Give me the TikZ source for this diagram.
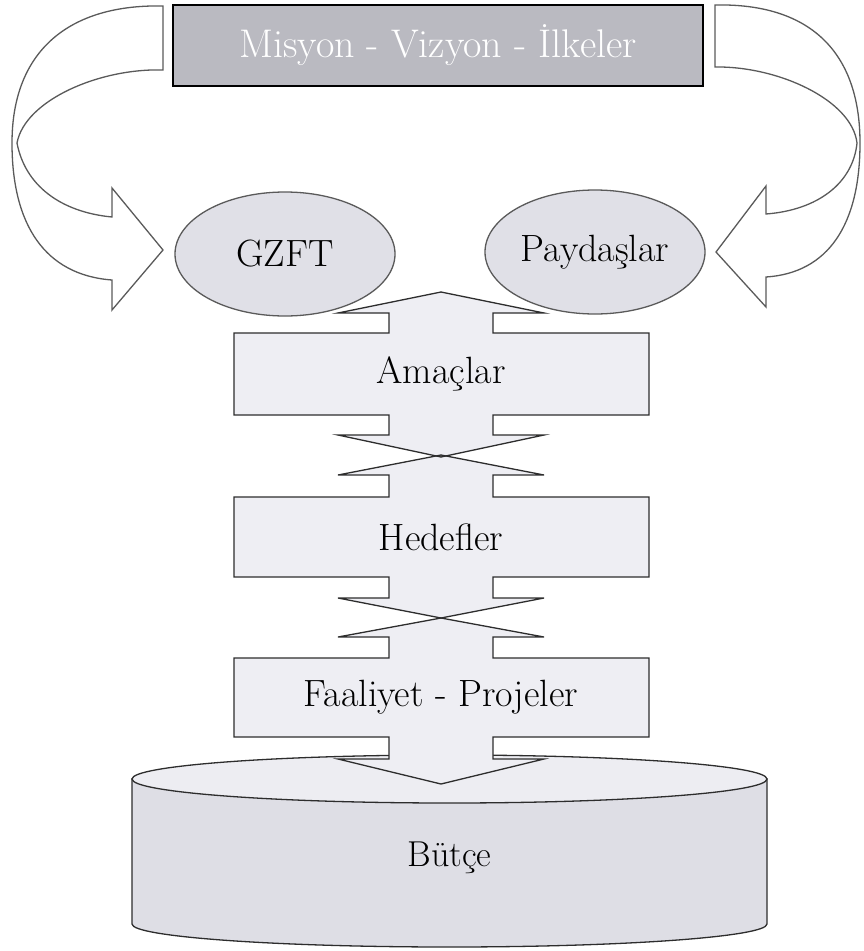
\documentclass[tikz,border=0pt]{standalone}
\usepackage{fontspec}
\usetikzlibrary{shapes.geometric}
\definecolor{topfill}{RGB}{186,186,193}
\definecolor{ellfill}{RGB}{224,224,231}
\definecolor{blkfill}{RGB}{238,238,243}
\definecolor{cylbody}{RGB}{222,222,229}
\definecolor{cyltop}{RGB}{237,237,242}
\definecolor{linec}{RGB}{45,45,45}
\definecolor{arrline}{RGB}{90,90,90}
\newcommand\udshape[7]{%
  \path[#1] (234,#2) -- (389,#2) -- (389,#4) -- (338,#4) -- (441,#5) -- (544,#4) -- (493,#4) -- (493,#2)
    -- (649,#2) -- (649,#3) -- (493,#3) -- (493,#6) -- (544,#6) -- (441,#7) -- (338,#6) -- (389,#6)
    -- (389,#3) -- (234,#3) -- cycle;}
\newcommand\bigfont[1]{\addfontfeatures{FakeBold=0.6}\fontsize{#1}{#1}\selectfont}
\tikzset{
  lbl/.style={font=\bigfont{38}, text=black, inner sep=0pt},
  blockfill/.style={fill=blkfill},
  blockline/.style={draw=linec, line width=1.3pt, line join=miter},
  curvarrow/.style={fill=white, draw=arrline, line width=1.3pt, line join=miter},
  ellnode/.style={ellipse, fill=ellfill, draw=arrline, line width=1.3pt, minimum width=220pt, minimum height=124pt, inner sep=0pt, font=\bigfont{38}},
}
\begin{document}
\begin{tikzpicture}[x=1pt,y=-1pt]
\useasboundingbox (0,0) rectangle (863,951);
% curved arrows
\draw[curvarrow] (163,6) .. controls (70,4) and (12,50) .. (12,143)
  .. controls (12,225) and (45,275) .. (112,280) -- (112,310) -- (163,250) -- (112,188) -- (112,217)
  .. controls (60,212) and (25,185) .. (17,143) .. controls (25,100) and (100,68) .. (163,70) -- cycle;
\draw[curvarrow] (715,5) .. controls (808,3) and (860,50) .. (860,143)
  .. controls (860,225) and (828,273) .. (766,277) -- (766,307) -- (716,252) -- (766,186) -- (766,214)
  .. controls (818,210) and (853,183) .. (857,143) .. controls (852,100) and (778,66) .. (715,67) -- cycle;
% top box
\node[rectangle, fill=topfill, draw=black, line width=1.8pt, minimum width=530pt, minimum height=81pt,
  inner sep=0pt, font=\bigfont{40}, text=white] (mvi) at (438,45.5) {Misyon - Vizyon - İlkeler};
% ellipses
\node[ellnode] (gzft) at (285,254) {GZFT};
\node[ellnode] (payd) at (595,252) {Paydaşlar};
% cylinder
\path[fill=cylbody, draw=linec, line width=1.3pt] (132,779) -- (132,924)
  arc[start angle=180, end angle=360, x radius=317.5, y radius=-23] -- (767,779) -- cycle;
\path[fill=cyltop, draw=linec, line width=1.3pt] (449.5,779) ellipse[x radius=317.5, y radius=24];
\node[lbl, font=\bigfont{36}] (butce) at (449.5,858) {Bütçe};
% up-down blocks: fills first, then outlines
\udshape{blockfill}{333}{415}{313}{292}{435}{457}
\udshape{blockfill}{497}{577}{475}{455}{598}{618}
\udshape{blockfill}{658}{737}{637}{618}{759}{784}
\udshape{blockline}{333}{415}{313}{292}{435}{457}
\udshape{blockline}{497}{577}{475}{455}{598}{618}
\udshape{blockline}{658}{737}{637}{618}{759}{784}
\node[lbl] (amac) at (441,374) {Amaçlar};
\node[lbl] (hedef) at (441,537) {Hedefler};
\node[lbl] (faal) at (441,697) {Faaliyet - Projeler};
\end{tikzpicture}
\end{document}
